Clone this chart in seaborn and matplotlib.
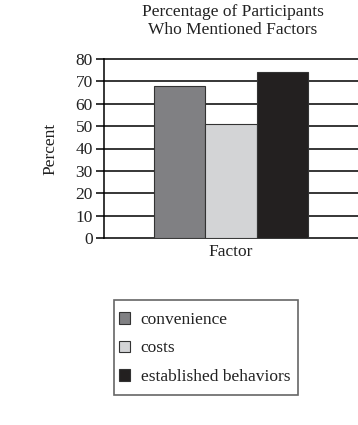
import pandas as pd
import matplotlib
matplotlib.use("Agg")
import matplotlib.pyplot as plt
import seaborn as sns
from matplotlib.patches import Rectangle

# data
factors = ["convenience", "costs", "established behaviors"]
percent = [68, 51, 74]
group = ["Factor"] * 3
colors = ["#7f8083", "#d3d4d6", "#231f20"]
yticks = [0, 10, 20, 30, 40, 50, 60, 70, 80]

df = pd.DataFrame({"group": group, "factor": factors, "percent": percent})

sns.set_style("white")
plt.rcParams["font.family"] = ["Liberation Serif", "DejaVu Serif"]

W, H = 358, 425
fig = plt.figure(figsize=(W / 100, H / 100), dpi=100)
ax = fig.add_axes([104 / W, 1 - 238 / H, 1 - 104 / W, 179 / H])

sns.barplot(data=df, x="group", y="percent", hue="factor", palette=colors,
            width=0.8, edgecolor="#333333", linewidth=0.8, ax=ax, legend=True)

ax.set_ylim(0, 80)
ax.set_xlim(-0.66, 0.66)
ax.set_yticks(yticks)
ax.yaxis.grid(True, color="black", linewidth=1.1)
for gl in ax.get_ygridlines():
    gl.set_clip_on(False)
ax.set_axisbelow(True)
for s in ["top", "right", "bottom"]:
    ax.spines[s].set_visible(False)
ax.spines["left"].set_color("black")
ax.spines["left"].set_linewidth(1.1)
ax.tick_params(axis="y", left=True, length=6, width=1.1, color="black",
               labelsize=12.5, pad=2, labelcolor="#222222")
ax.tick_params(axis="x", bottom=False, labelsize=12.5, pad=1, labelcolor="#222222")
ax.set_xlabel("")
ax.set_ylabel("Percent", fontsize=12.5, color="#222222", labelpad=12)

fig.text(233 / W, 1 - 21 / H, "Percentage of Participants\nWho Mentioned Factors",
         ha="center", va="center", fontsize=12.5, color="#222222", linespacing=1.25)

# legend box drawn separately so padding matches the reference
fig.patches.append(Rectangle((114 / W, 1 - 395 / H), 184 / W, 95 / H,
                             transform=fig.transFigure, fill=False,
                             edgecolor="#666666", linewidth=1.2))

handles, labels = ax.get_legend_handles_labels()
ax.get_legend().remove()
fig.legend(handles, labels, loc="upper left",
           bbox_to_anchor=(119 / W, 1 - 312 / H),
           frameon=False, fontsize=12.5,
           handlelength=0.65, handleheight=0.65, handletextpad=0.6,
           labelspacing=0.72, borderpad=0, borderaxespad=0,
           labelcolor="#222222")

fig.savefig("out.png", dpi=100)
